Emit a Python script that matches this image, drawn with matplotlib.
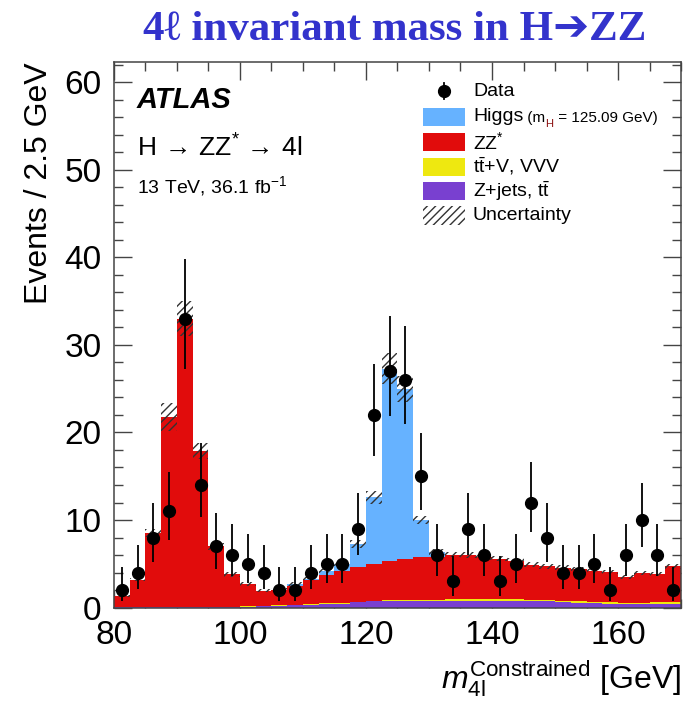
import numpy as np
import matplotlib
matplotlib.use('Agg')
import matplotlib.pyplot as plt
from matplotlib.patches import Rectangle
from matplotlib.ticker import MultipleLocator

plt.rcParams['font.family'] = ['Liberation Sans', 'DejaVu Sans']
plt.rcParams['mathtext.fontset'] = 'custom'
plt.rcParams['mathtext.rm'] = 'Liberation Sans'
plt.rcParams['mathtext.it'] = 'Liberation Sans:italic'
plt.rcParams['mathtext.bf'] = 'Liberation Sans:bold'
plt.rcParams['hatch.linewidth'] = 1.0

# 2.5 GeV bins from 80 to 170 GeV
edges = np.arange(80, 170.01, 2.5)
centers = edges[:-1] + 1.25

# observed events per bin
data = [2, 4, 8, 11, 33, 14, 7, 6, 5, 4, 2, 2, 4, 5, 5, 9, 22, 27,
        26, 15, 6, 3, 9, 6, 3, 5, 12, 8, 4, 4, 5, 2, 6, 10, 6, 2]

# expected contributions (stacked, bottom to top)
zjets = [0.05, 0.05, 0.05, 0.05, 0.05, 0.05, 0.05, 0.05, 0.10, 0.15, 0.20, 0.30,
         0.35, 0.45, 0.45, 0.60, 0.70, 0.75, 0.80, 0.80, 0.80, 0.80, 0.80, 0.80,
         0.80, 0.80, 0.75, 0.70, 0.60, 0.55, 0.50, 0.45, 0.40, 0.40, 0.45, 0.45]
ttv = [0.02, 0.02, 0.02, 0.02, 0.02, 0.02, 0.02, 0.02, 0.03, 0.03, 0.04, 0.05,
       0.06, 0.07, 0.08, 0.09, 0.10, 0.10, 0.11, 0.12, 0.12, 0.13, 0.13, 0.14,
       0.14, 0.15, 0.15, 0.16, 0.16, 0.17, 0.17, 0.17, 0.18, 0.18, 0.18, 0.18]
zz = [1.23, 3.13, 8.43, 21.73, 32.93, 17.83, 6.93, 3.73, 2.57, 1.72, 1.76, 2.15,
      2.69, 3.18, 3.67, 3.91, 4.20, 4.45, 4.69, 4.88, 4.83, 5.02, 5.02, 4.81,
      4.61, 4.40, 4.00, 3.84, 3.79, 3.68, 3.48, 3.43, 2.92, 3.37, 3.22, 4.07]
higgs = [0, 0, 0, 0, 0, 0, 0, 0, 0.02, 0.03, 0.05, 0.20,
         0.20, 0.50, 0.80, 2.70, 7.60, 22.0, 19.4, 4.20, 0.55, 0.10, 0.05, 0.03,
         0.02, 0.02, 0.01, 0.01, 0.01, 0.01, 0.01, 0.01, 0.01, 0.01, 0.01, 0.01]
# half-width of the uncertainty band
unc = [0.10, 0.20, 0.45, 1.60, 2.00, 0.90, 0.40, 0.25, 0.20, 0.15, 0.15, 0.20,
       0.20, 0.25, 0.30, 0.45, 0.75, 1.80, 1.50, 0.50, 0.35, 0.30, 0.30, 0.30,
       0.30, 0.30, 0.30, 0.30, 0.25, 0.25, 0.25, 0.25, 0.20, 0.25, 0.25, 0.30]

c_higgs = '#66B2FF'
c_zz = '#E10C0C'
c_ttv = '#EEE810'
c_zjets = '#7940D0'
c_frame = '#444444'

fig = plt.figure(figsize=(6.83, 7.04), dpi=100)
ax = fig.add_axes([114/683, 1-607.6/704, 567/683, 545.6/704])

# stacked histograms
layers = [(zjets, c_zjets), (ttv, c_ttv), (zz, c_zz), (higgs, c_higgs)]
base = np.zeros(len(data))
for vals, col in layers:
    top = base + np.array(vals)
    ax.stairs(top, edges, baseline=base.copy(), fill=True, color=col, lw=0, zorder=2)
    base = top
tot = base

# uncertainty band
unc = np.array(unc)
ax.bar(edges[:-1], 2*unc, width=2.5, bottom=tot-unc, align='edge', fill=False,
       hatch='////', edgecolor='#333333', lw=0, zorder=3)

# data with asymmetric poisson errors (Gehrels approximation)
n = np.array(data, dtype=float)
hi = np.sqrt(n + 0.75) + 1.0
lo = n - n*(1 - 1/(9*n) - 1/(3*np.sqrt(n)))**3
ax.errorbar(centers, n, yerr=[lo, hi], fmt='o', color='black', ms=8.5,
            elinewidth=1.3, capsize=0, zorder=5)

ax.set_xlim(80, 170)
ax.set_ylim(0, 62.3)
ax.xaxis.set_major_locator(MultipleLocator(20))
ax.xaxis.set_minor_locator(MultipleLocator(5))
ax.yaxis.set_major_locator(MultipleLocator(10))
ax.yaxis.set_minor_locator(MultipleLocator(2))
ax.tick_params(which='both', direction='in', top=True, right=True, color=c_frame, width=1.0)
ax.tick_params(which='major', length=12.7, labelsize=24, pad=9)
ax.tick_params(which='minor', length=6.3)
for s in ax.spines.values():
    s.set_color(c_frame)
    s.set_linewidth(1.1)

ax.set_ylabel('Events / 2.5 GeV', fontsize=23, loc='top')
ax.yaxis.set_label_coords(-0.105, 1.0)
ax.set_xlabel(r'$m_{\mathrm{4l}}^{\mathrm{Constrained}}$ [GeV]', fontsize=23, loc='right', labelpad=5)

# ATLAS label block
ax.text(0.0406, 0.930, 'ATLAS', transform=ax.transAxes, fontsize=21,
        fontweight='bold', fontstyle='italic', va='center')
ax.text(0.0406, 0.842, r'H$\,\rightarrow\,$ZZ$^{*}\,\rightarrow\,$4l', transform=ax.transAxes,
        fontsize=19, va='center')
ax.text(0.0406, 0.773, '13 TeV, 36.1 fb$^{-1}$', transform=ax.transAxes, fontsize=14, va='center')

# legend drawn by hand
def fx(px):
    return (px - 114) / 567

def fy(py):
    return (607.6 - py) / 545.6

tx = fx(473)
ax.plot([fx(444)], [fy(91)], 'o', color='black', ms=8.5, transform=ax.transAxes, clip_on=False, zorder=6)
ax.plot([fx(444), fx(444)], [fy(83), fy(99)], color='black', lw=1.3, transform=ax.transAxes, zorder=6)
ax.text(tx, fy(91), 'Data', transform=ax.transAxes, fontsize=14, va='center')

rows = [(116.5, c_higgs, None), (142, c_zz, r'ZZ$^{*}$'),
        (166.5, c_ttv, r't$\bar{\mathrm{t}}$+V, VVV'),
        (191, c_zjets, r'Z+jets, t$\bar{\mathrm{t}}$')]
for py, col, lab in rows:
    ax.add_patch(Rectangle((fx(423), fy(py + 9)), fx(465) - fx(423), fy(py - 9) - fy(py + 9),
                           transform=ax.transAxes, facecolor=col, edgecolor='none', zorder=6))
    if lab:
        ax.text(tx, fy(py), lab, transform=ax.transAxes, fontsize=14, va='center')
ax.add_patch(Rectangle((fx(423), fy(225)), fx(465) - fx(423), fy(206) - fy(225),
                       transform=ax.transAxes, fill=False, hatch='////', edgecolor='#333333',
                       lw=0, zorder=6))
ax.text(tx, fy(215.5), 'Uncertainty', transform=ax.transAxes, fontsize=14, va='center')

t1 = ax.text(tx, fy(116.5), 'Higgs', transform=ax.transAxes, fontsize=14, va='center')
t2 = ax.annotate(' (m', xy=(1, 0), xycoords=t1, fontsize=11, va='bottom')
t3 = ax.annotate('H', xy=(1, 0), xycoords=t2, xytext=(0, -3), textcoords='offset points',
                 fontsize=8, va='bottom', color='#8B1010')
ax.annotate(' = 125.09 GeV)', xy=(1, 0), xycoords=t3, xytext=(0, 3), textcoords='offset points',
            fontsize=11, va='bottom')

fig.text(395/683, 1 - 30/704, '4ℓ invariant mass in H➔ZZ', ha='center', va='center',
         fontsize=31, fontweight='bold', color='#3333CC',
         family=['Liberation Serif', 'DejaVu Sans'])

fig.savefig('out.png', dpi=100)
